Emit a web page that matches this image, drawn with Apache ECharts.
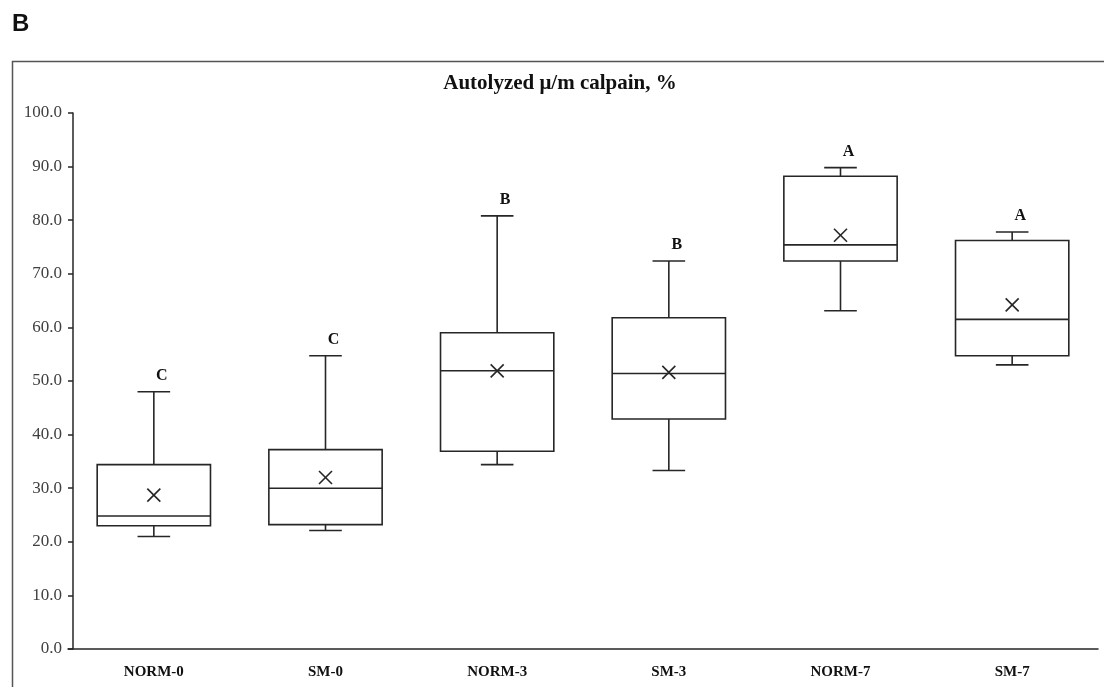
<!DOCTYPE html>
<html>
<head>
<meta charset="utf-8">
<script src="https://cdn.jsdelivr.net/npm/echarts@6/dist/echarts.min.js"></script>
<style>html,body{margin:0;padding:0;background:#fff}#c{width:1104px;height:687px}</style>
</head>
<body>
<div id="c"></div>
<script>
const categories = ['NORM-0', 'SM-0', 'NORM-3', 'SM-3', 'NORM-7', 'SM-7'];
const whiskerLow  = [21.0, 22.1, 34.4, 33.3, 63.1, 53.0];
const quartile1   = [23.0, 23.2, 36.9, 42.9, 72.4, 54.7];
const medians     = [24.8, 30.0, 51.9, 51.4, 75.4, 61.5];
const quartile3   = [34.4, 37.2, 59.0, 61.8, 88.2, 76.2];
const whiskerHigh = [48.0, 54.7, 80.8, 72.4, 89.8, 77.8];
const means       = [28.7, 32.0, 51.9, 51.6, 77.2, 64.2];
const letters     = ['C', 'C', 'B', 'B', 'A', 'A'];
const yTicks = { min: 0, max: 100, step: 10 };

const data = categories.map((c, i) => [i, whiskerLow[i], quartile1[i], medians[i], quartile3[i], whiskerHigh[i], means[i]]);

const chart = echarts.init(document.getElementById('c'), null, { renderer: 'canvas' });
const ink = '#262626';
const serif = '"Liberation Serif", "Times New Roman", serif';

chart.setOption({
  backgroundColor: '#fff',
  animation: false,
  graphic: [
    { type: 'rect', shape: { x: 12.5, y: 61.5, width: 1200, height: 700 }, style: { fill: null, stroke: '#555', lineWidth: 1.5 }, silent: true },
    { type: 'text', left: 12, top: 12, style: { text: 'B', font: 'bold 24px "Liberation Sans", Arial, sans-serif', fill: '#111' } },
    { type: 'text', x: 560, y: 84, style: { text: 'Autolyzed μ/m calpain, %', font: 'bold 21px ' + serif, fill: '#111', align: 'center', verticalAlign: 'middle' } }
  ],
  grid: { left: 68, right: 6, top: 113, bottom: 38 },
  xAxis: {
    type: 'category',
    data: categories,
    axisLine: { lineStyle: { color: ink, width: 1.5 } },
    axisTick: { show: false },
    axisLabel: { color: '#111', fontFamily: serif, fontWeight: 'bold', fontSize: 15, margin: 16 },
    splitLine: { show: false }
  },
  yAxis: {
    type: 'value',
    min: yTicks.min, max: yTicks.max, interval: yTicks.step,
    offset: -5,
    axisLine: { show: true, lineStyle: { color: ink, width: 1.5 } },
    axisTick: { show: true, length: 5, lineStyle: { color: ink, width: 1.5 } },
    axisLabel: { color: '#404040', fontFamily: serif, fontSize: 17, margin: 11, formatter: v => v.toFixed(1) },
    splitLine: { show: false }
  },
  series: [{
    type: 'custom',
    data: data,
    clip: false,
    renderItem: function (params, api) {
      const i = api.value(0);
      const pMin = api.coord([i, api.value(1)]);
      const pQ1 = api.coord([i, api.value(2)]);
      const pMed = api.coord([i, api.value(3)]);
      const pQ3 = api.coord([i, api.value(4)]);
      const pMax = api.coord([i, api.value(5)]);
      const pMean = api.coord([i, api.value(6)]);
      const band = api.size([1, 0])[0];
      const cx = pMed[0];
      const bw = band * 0.66, cw = band * 0.19, xs = 6.5;
      const st = { stroke: ink, lineWidth: 1.6, fill: null };
      const line = (x1, y1, x2, y2) => ({ type: 'line', shape: { x1, y1, x2, y2 }, style: st });
      return {
        type: 'group',
        children: [
          line(cx, pQ3[1], cx, pMax[1]),
          line(cx - cw / 2, pMax[1], cx + cw / 2, pMax[1]),
          line(cx, pQ1[1], cx, pMin[1]),
          line(cx - cw / 2, pMin[1], cx + cw / 2, pMin[1]),
          { type: 'rect', shape: { x: cx - bw / 2, y: pQ3[1], width: bw, height: pQ1[1] - pQ3[1] }, style: { stroke: ink, lineWidth: 1.6, fill: '#fff' } },
          line(cx - bw / 2, pMed[1], cx + bw / 2, pMed[1]),
          line(pMean[0] - xs, pMean[1] - xs, pMean[0] + xs, pMean[1] + xs),
          line(pMean[0] - xs, pMean[1] + xs, pMean[0] + xs, pMean[1] - xs),
          { type: 'text', x: cx + 8, y: pMax[1] - 16, style: { text: letters[params.dataIndex], font: 'bold 16px ' + serif, fill: '#111', align: 'center', verticalAlign: 'middle' } }
        ]
      };
    }
  }]
});
</script>
</body>
</html>
